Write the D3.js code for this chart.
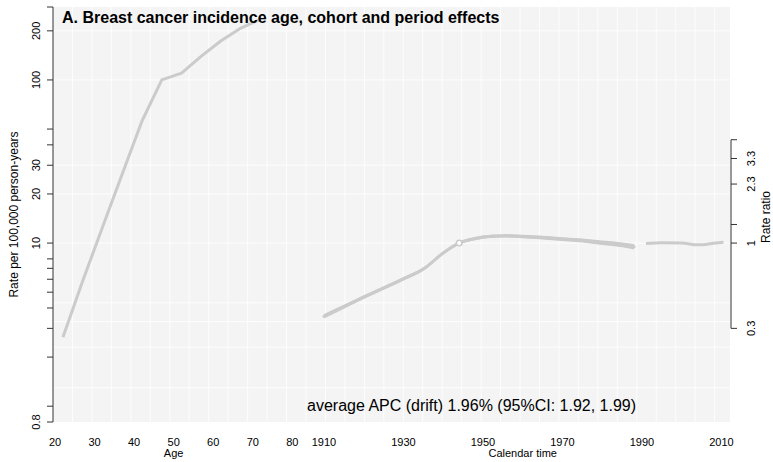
<!DOCTYPE html>
<html>
<head>
<meta charset="utf-8">
<script src="https://cdn.jsdelivr.net/npm/d3@7.9.0/dist/d3.min.js"></script>
<style>
  body { margin: 0; background: #fff; }
  text { font-family: "Liberation Sans", Arial, Helvetica, sans-serif; fill: #000; }
</style>
</head>
<body>
<svg id="chart" width="773" height="462"></svg>
<script>
// ---- data ----
const ages = [22, 27, 32, 37, 42, 47, 52, 57, 62, 67, 72];
const ageRates = [2.65, 5.85, 12.5, 26.5, 56, 100, 110, 140, 174, 208, 236];

const cohortYears = [1910, 1915, 1920, 1925, 1930, 1935, 1940, 1944, 1948, 1952, 1956, 1960, 1965, 1970, 1975, 1980, 1985, 1988];
const cohortRR    = [0.356, 0.407, 0.466, 0.53, 0.604, 0.693, 0.87, 1.0, 1.066, 1.10, 1.107, 1.096, 1.081, 1.058, 1.036, 1.004, 0.975, 0.949];
const cohortLow   = [0.352, 0.404, 0.464, 0.528, 0.602, 0.691, 0.868, 1.0, 1.064, 1.098, 1.104, 1.092, 1.076, 1.052, 1.028, 0.994, 0.962, 0.932];
const cohortHigh  = [0.360, 0.410, 0.468, 0.532, 0.606, 0.695, 0.872, 1.0, 1.068, 1.102, 1.110, 1.100, 1.086, 1.064, 1.044, 1.014, 0.988, 0.966];
const refCohort = 1944;

const periodYears = [1991, 1995, 2000, 2004, 2008, 2010.5];
const periodRR    = [0.993, 1.003, 1.0, 0.975, 0.996, 1.011];

const ageTicks = [20, 30, 40, 50, 60, 70, 80];
const calTicks = [1910, 1930, 1950, 1970, 1990, 2010];
const rateTicks = [0.8, 1, 2, 3, 4, 5, 6, 7, 8, 10, 20, 30, 40, 50, 100, 200, 280];
const rateLabels = [0.8, 10, 20, 30, 100, 200];
const rateGrid = [200, 100, 30, 20, 10, 4.3, 3.3, 2.3, 1.3];
const ratioTicks = [0.3, 1, 1.3, 2.3, 3.3, 4.3];
const ratioLabels = [0.3, 1, 2.3, 3.3];

const title = "A. Breast cancer incidence age, cohort and period effects";
const note = "average APC (drift) 1.96% (95%CI: 1.92, 1.99)";

// ---- layout ----
const svg = d3.select("#chart");
const panel = { left: 53, right: 730, top: 7, bottom: 422 };

const xAge = d3.scaleLinear().domain([20, 80]).range([55, 292.3]);
const xCal = d3.scaleLinear().domain([1910, 2010]).range([324, 721.5]);
const yRate = d3.scaleLog().domain([0.8, 280]).range([panel.bottom, panel.top]);
const yRatio = d3.scaleLog().domain([0.08, 28]).range([panel.bottom, panel.top]);
const xGrid = d3.scaleLinear().domain([0, 1]).range([panel.left, panel.left + 19.46]);

const lineColor = "#cbcbcb";

// panel background
svg.append("rect")
  .attr("x", panel.left).attr("y", panel.top)
  .attr("width", panel.right - panel.left).attr("height", panel.bottom - panel.top)
  .attr("fill", "#f4f4f4");

// grid
const grid = svg.append("g").attr("stroke", "#fdfdfd").attr("stroke-width", 1);
d3.range(1, 35).forEach(k => {
  grid.append("line")
    .attr("x1", xGrid(k)).attr("x2", xGrid(k))
    .attr("y1", panel.top).attr("y2", panel.bottom);
});
rateGrid.forEach(v => {
  grid.append("line")
    .attr("x1", panel.left).attr("x2", panel.right)
    .attr("y1", yRate(v)).attr("y2", yRate(v));
});

// clip to panel
svg.append("clipPath").attr("id", "clip").append("rect")
  .attr("x", panel.left).attr("y", panel.top)
  .attr("width", panel.right - panel.left).attr("height", panel.bottom - panel.top);
const plot = svg.append("g").attr("clip-path", "url(#clip)");

// age curve
const ageLine = d3.line()
  .x((d, i) => xAge(ages[i]))
  .y(d => yRate(d));
plot.append("path")
  .attr("d", ageLine(ageRates))
  .attr("fill", "none").attr("stroke", lineColor).attr("stroke-width", 3)
  .attr("stroke-linejoin", "round");

// cohort curve with CI band
const cohortArea = d3.area()
  .x((d, i) => xCal(cohortYears[i]))
  .y0((d, i) => yRatio(cohortLow[i]) + 1.5)
  .y1((d, i) => yRatio(cohortHigh[i]) - 1.5)
  .curve(d3.curveMonotoneX);
plot.append("path")
  .attr("d", cohortArea(cohortRR))
  .attr("fill", lineColor);

const cohortLine = d3.line()
  .x((d, i) => xCal(cohortYears[i]))
  .y(d => yRatio(d))
  .curve(d3.curveMonotoneX);
plot.append("path")
  .attr("d", cohortLine(cohortRR))
  .attr("fill", "none").attr("stroke", lineColor).attr("stroke-width", 3)
  .attr("stroke-linecap", "round");

plot.append("circle")
  .attr("cx", xCal(refCohort)).attr("cy", yRatio(1))
  .attr("r", 2.8)
  .attr("fill", "#fff").attr("stroke", lineColor).attr("stroke-width", 1.5);

// period curve
const periodLine = d3.line()
  .x((d, i) => xCal(periodYears[i]))
  .y(d => yRatio(d))
  .curve(d3.curveMonotoneX);
plot.append("path")
  .attr("d", periodLine(periodRR))
  .attr("fill", "none").attr("stroke", lineColor).attr("stroke-width", 3);

// left axis
const leftAxis = svg.append("g").attr("stroke", "#333").attr("stroke-width", 1);
leftAxis.append("line")
  .attr("x1", panel.left).attr("x2", panel.left)
  .attr("y1", yRate(280)).attr("y2", yRate(0.8));
rateTicks.forEach(v => {
  leftAxis.append("line")
    .attr("x1", panel.left - 6).attr("x2", panel.left)
    .attr("y1", yRate(v)).attr("y2", yRate(v));
});
rateLabels.forEach(v => {
  svg.append("text")
    .attr("transform", `translate(40,${yRate(v)}) rotate(-90)`)
    .attr("text-anchor", "middle")
    .attr("font-size", 11)
    .text(v);
});
svg.append("text")
  .attr("transform", `translate(18,${(panel.top + panel.bottom) / 2}) rotate(-90)`)
  .attr("text-anchor", "middle")
  .attr("font-size", 12)
  .text("Rate per 100,000 person-years");

// right axis
const ax = 731;
const rightAxis = svg.append("g").attr("stroke", "#333").attr("stroke-width", 1);
rightAxis.append("line")
  .attr("x1", ax).attr("x2", ax)
  .attr("y1", yRatio(4.3)).attr("y2", yRatio(0.3));
ratioTicks.forEach(v => {
  rightAxis.append("line")
    .attr("x1", ax).attr("x2", ax + 6)
    .attr("y1", yRatio(v)).attr("y2", yRatio(v));
});
ratioLabels.forEach(v => {
  svg.append("text")
    .attr("transform", `translate(755,${yRatio(v)}) rotate(-90)`)
    .attr("text-anchor", "middle")
    .attr("font-size", 11)
    .text(v);
});
svg.append("text")
  .attr("transform", `translate(770,217) rotate(-90)`)
  .attr("text-anchor", "middle")
  .attr("font-size", 12)
  .text("Rate ratio");

// bottom tick labels
ageTicks.forEach(v => {
  svg.append("text")
    .attr("x", xAge(v)).attr("y", 446)
    .attr("text-anchor", "middle").attr("font-size", 11)
    .text(v);
});
calTicks.forEach(v => {
  svg.append("text")
    .attr("x", xCal(v)).attr("y", 446)
    .attr("text-anchor", "middle").attr("font-size", 11)
    .text(v);
});
svg.append("text")
  .attr("x", xAge(50)).attr("y", 457)
  .attr("text-anchor", "middle").attr("font-size", 11)
  .text("Age");
svg.append("text")
  .attr("x", xCal(1960)).attr("y", 457)
  .attr("text-anchor", "middle").attr("font-size", 11)
  .text("Calendar time");

// title and drift note
svg.append("text")
  .attr("x", 62).attr("y", 23)
  .attr("font-size", 16).attr("font-weight", "bold")
  .text(title);
svg.append("text")
  .attr("x", 307).attr("y", 411)
  .attr("font-size", 16)
  .text(note);
</script>
</body>
</html>
